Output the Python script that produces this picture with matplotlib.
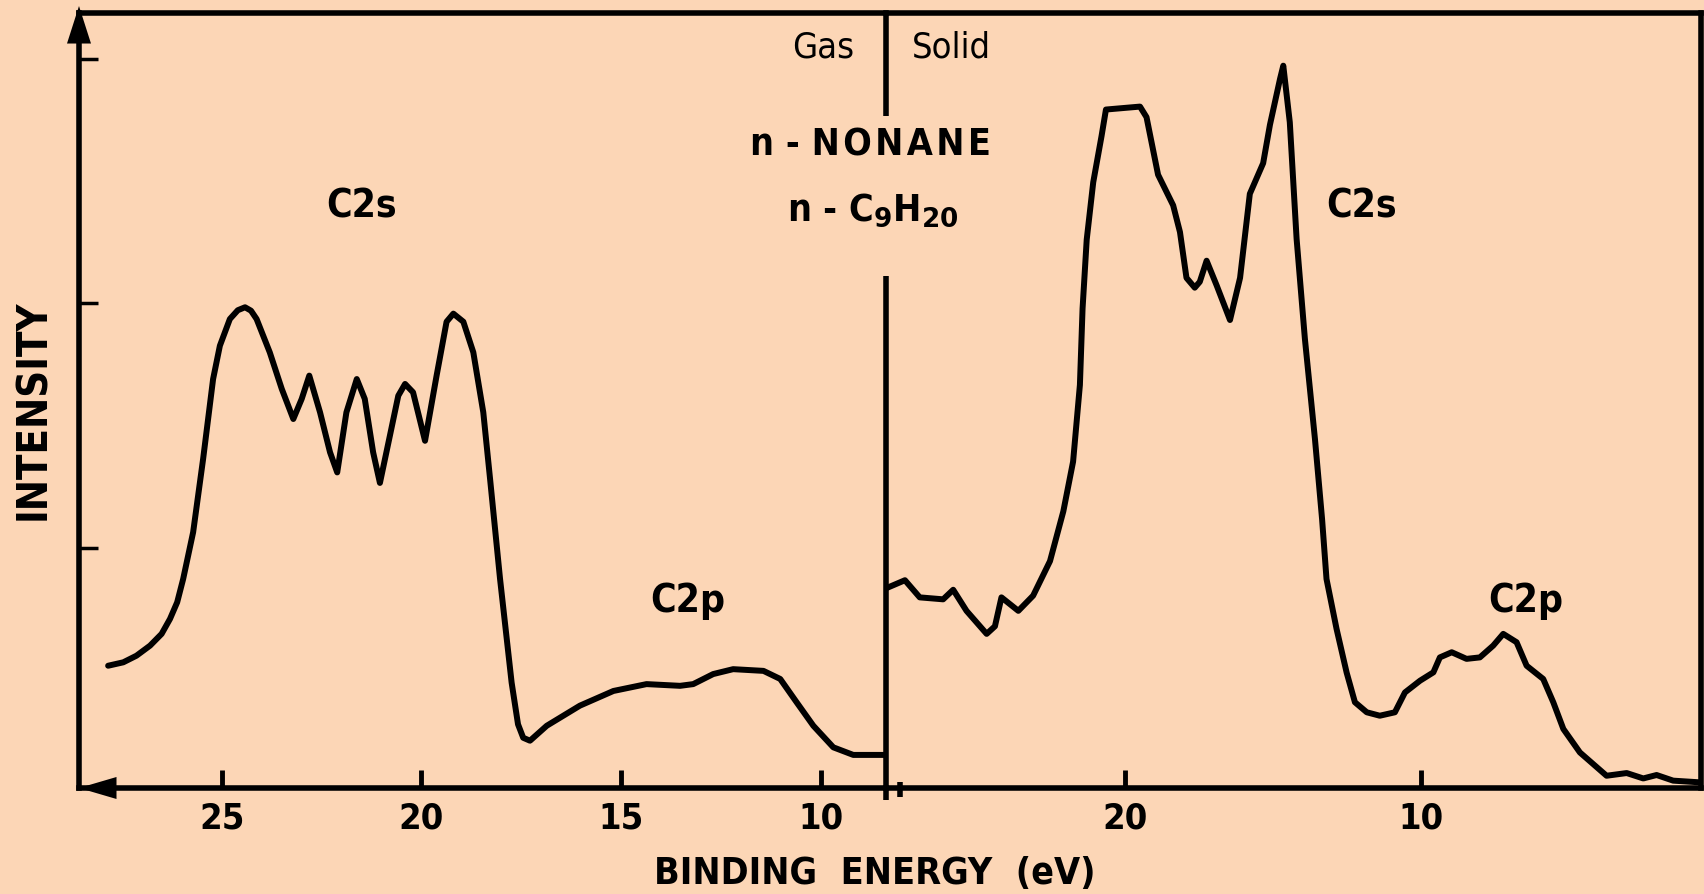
import matplotlib
matplotlib.use("Agg")
import matplotlib.pyplot as plt

# ---------------- data ----------------
gas_energy = [27.85, 27.47, 27.14, 26.80, 26.51, 26.30, 26.12, 25.97, 25.72, 25.47,
              25.22, 25.05, 24.80, 24.60, 24.42, 24.27, 24.13, 23.80, 23.50, 23.21,
              23.00, 22.81, 22.54, 22.29, 22.11, 21.88, 21.62, 21.42, 21.21, 21.04,
              20.79, 20.58, 20.41, 20.21, 19.91, 19.62, 19.37, 19.20, 18.95, 18.70,
              18.45, 18.28, 18.03, 17.74, 17.58, 17.45, 17.28, 16.86, 16.03, 15.19,
              14.36, 13.52, 13.19, 12.69, 12.19, 11.43, 11.01, 10.60, 10.18, 9.68,
              9.18, 8.47, 8.38]
gas_intensity = [0.499, 0.513, 0.540, 0.581, 0.629, 0.690, 0.758, 0.853, 1.044, 1.343,
                 1.669, 1.805, 1.914, 1.950, 1.962, 1.948, 1.914, 1.778, 1.629, 1.506,
                 1.588, 1.683, 1.533, 1.370, 1.288, 1.533, 1.669, 1.588, 1.370, 1.245,
                 1.438, 1.601, 1.649, 1.615, 1.417, 1.683, 1.903, 1.936, 1.903, 1.778,
                 1.533, 1.261, 0.853, 0.430, 0.260, 0.205, 0.193, 0.254, 0.336, 0.396,
                 0.424, 0.417, 0.424, 0.465, 0.485, 0.478, 0.445, 0.350, 0.254, 0.166,
                 0.135, 0.135, 0.135]

solid_energy = [28.05, 27.43, 26.93, 26.14, 25.80, 25.35, 24.67, 24.39, 24.17, 23.60,
                23.10, 22.53, 22.08, 21.75, 21.52, 21.43, 21.29, 21.07, 20.79, 20.64,
                19.49, 19.27, 18.88, 18.37, 18.14, 17.92, 17.64, 17.47, 17.24, 16.90,
                16.45, 16.11, 15.78, 15.33, 15.10, 14.76, 14.65, 14.43, 14.20, 13.92,
                13.58, 13.34, 13.19, 12.85, 12.51, 12.23, 11.83, 11.39, 10.88, 10.54,
                10.03, 9.58, 9.36, 8.96, 8.46, 8.01, 7.56, 7.22, 6.77, 6.43,
                5.87, 5.53, 5.19, 4.63, 3.73, 3.05, 2.49, 2.04, 1.48, 0.57]
solid_intensity = [0.816, 0.848, 0.778, 0.770, 0.809, 0.723, 0.629, 0.660, 0.778, 0.723,
                   0.785, 0.926, 1.129, 1.332, 1.645, 1.957, 2.238, 2.472, 2.660, 2.769,
                   2.781, 2.738, 2.503, 2.378, 2.269, 2.082, 2.042, 2.066, 2.152, 2.051,
                   1.910, 2.082, 2.425, 2.550, 2.707, 2.894, 2.948, 2.717, 2.241, 1.833,
                   1.424, 1.098, 0.853, 0.649, 0.471, 0.350, 0.309, 0.295, 0.309, 0.390,
                   0.438, 0.472, 0.533, 0.554, 0.527, 0.533, 0.581, 0.629, 0.595, 0.499,
                   0.445, 0.350, 0.241, 0.145, 0.050, 0.061, 0.039, 0.053, 0.030, 0.023]

gas_ticks = [25, 20, 15, 10]
solid_ticks = [20, 10]
gas_xlim = (28.58, 8.36)
solid_xlim = (28.07, 0.54)
ylim = (0, 3.163)
intensity_ticks = [0.98, 1.98, 2.975]

# ---------------- style ----------------
BG = "#FCD6B6"
FONT = dict(family="DejaVu Sans", fontstretch="condensed")
LW_CURVE = 4.3
LW_SPINE = 4.0

fig = plt.figure(figsize=(17.04, 8.95), dpi=100, facecolor=BG)
ax1 = fig.add_axes([0.04636, 0.11844, 0.47359, 0.86592])
ax2 = fig.add_axes([0.51995, 0.11844, 0.47829, 0.86592])

for ax, xl in ((ax1, gas_xlim), (ax2, solid_xlim)):
    ax.patch.set_visible(False)
    ax.set_xlim(*xl)
    ax.set_ylim(*ylim)
    for s in ax.spines.values():
        s.set_linewidth(LW_SPINE)
        s.set_color("black")
    ax.tick_params(axis="x", direction="in", length=13, width=3.5,
                   labelsize=26, pad=9, colors="black")

ax1.spines["right"].set_visible(False)
ax2.spines["left"].set_visible(False)

ax1.plot(gas_energy, gas_intensity, color="black", lw=LW_CURVE,
         solid_joinstyle="round", solid_capstyle="round")
ax2.plot(solid_energy, solid_intensity, color="black", lw=LW_CURVE,
         solid_joinstyle="round", solid_capstyle="round")

ax1.set_xticks(gas_ticks)
ax1.set_xticklabels([str(t) for t in gas_ticks], fontweight="bold", **FONT)
ax2.set_xticks(solid_ticks)
ax2.set_xticklabels([str(t) for t in solid_ticks], fontweight="bold", **FONT)

ax1.set_yticks(intensity_ticks)
ax1.tick_params(axis="y", direction="in", length=14, width=2.5, labelleft=False)
ax2.set_yticks([])

# divider between Gas and Solid (with a gap for the title)
ax1.plot([1, 1], [1.0, 0.867], transform=ax1.transAxes, color="black",
         lw=4.0, clip_on=False, solid_capstyle="butt")
ax1.plot([1, 1], [0.661, -0.015], transform=ax1.transAxes, color="black",
         lw=4.0, clip_on=False, solid_capstyle="butt")
# axis break mark
ax2.plot([0.017, 0.017], [0.008, -0.011], transform=ax2.transAxes, color="black",
         lw=4, clip_on=False, solid_capstyle="butt")

# arrows on the axes
ax1.annotate("", xy=(0.0, 1.009), xytext=(0.0, 0.90), xycoords="axes fraction",
             textcoords="axes fraction",
             arrowprops=dict(arrowstyle="-|>,head_length=0.75,head_width=0.24",
                             mutation_scale=36, color="black", lw=0,
                             shrinkA=0, shrinkB=0),
             annotation_clip=False)
ax1.annotate("", xy=(0.0, 0.0), xytext=(0.10, 0.0), xycoords="axes fraction",
             textcoords="axes fraction",
             arrowprops=dict(arrowstyle="-|>,head_length=0.75,head_width=0.22",
                             mutation_scale=36, color="black", lw=0,
                             shrinkA=0, shrinkB=0),
             annotation_clip=False)

# ---------------- text ----------------
def ftext(px, py, s, size, weight="normal", **kw):
    fig.text(px / 1704, 1 - py / 895, s, fontsize=size, ha="center", va="center",
             color="black", fontweight=weight, **FONT, **kw)

HS = "\u200a"
ftext(823, 47, "Gas", 26)
ftext(951, 47, "Solid", 26)
ftext(870, 145, "n - " + HS.join("NONANE"), 27, "bold")
ftext(873, 210, "n - C$_\\mathbf{9}$H$_\\mathbf{20}$", 27, "bold")
ftext(362, 206, "C2s", 28, "bold")
ftext(688, 601, "C2p", 28, "bold")
ftext(1362, 207, "C2s", 28, "bold")
ftext(1526, 601, "C2p", 28, "bold")
ftext(33, 410, "INTENSITY", 30, "bold", rotation=90)
ftext(875, 874, "BINDING  ENERGY  (eV)", 27, "bold")

fig.savefig("out.png", dpi=100, facecolor=BG)
